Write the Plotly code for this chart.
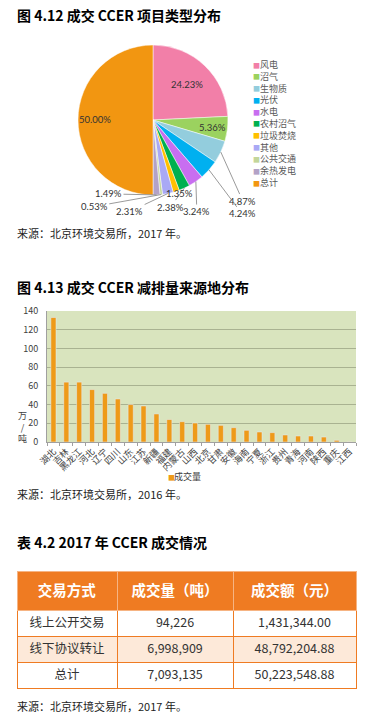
import math
import plotly.graph_objects as go

W, H = 371, 724
FONT = "Noto Sans CJK SC"

# ---------------- data ----------------
pie_labels = ["风电", "沼气", "生物质", "光伏", "水电", "农村沼气", "垃圾焚烧", "其他", "公共交通", "余热发电", "总计"]
pie_values = [24.23, 5.36, 4.87, 4.24, 3.24, 2.38, 1.35, 2.31, 0.53, 1.49, 50.00]

regions = ["湖北", "吉林", "黑龙江", "河北", "辽宁", "四川", "山东", "江苏", "新疆", "福建", "内蒙古", "山西",
           "北京", "甘肃", "安徽", "海南", "宁夏", "浙江", "贵州", "青海", "河南", "陕西", "重庆", "江西"]
volumes_wan_t = [133, 64, 64, 56, 52, 46, 40, 38.5, 30, 24, 21.7, 20.3,
                 18.9, 17.8, 15.3, 12.5, 10.7, 10, 7.5, 6.4, 6.4, 5.3, 1.8, 0.2]
y_ticks = [0, 20, 40, 60, 80, 100, 120, 140]

table_header = ["交易方式", "成交量（吨）", "成交额（元）"]
trade_modes = ["线上公开交易", "线下协议转让", "总计"]
trade_volumes = [94226, 6998909, 7093135]
trade_amounts = [1431344.00, 48792204.88, 50223548.88]

# ---------------- styles ----------------
pie_colors = ["#f27fa8", "#9bd25f", "#93cddd", "#00b0f0", "#c86ef0", "#00b050",
              "#ffc000", "#a9a9f5", "#c3d69b", "#b3a2c7", "#f29611"]
# label placement per slice: ("in", radius fraction) or ("out", dx px, dy px)
label_place = [("in", 0.66), ("in", 0.8), ("out", 22, 49), ("out", 33, 44), ("out", 1, 30),
               ("out", -14, 19), ("out", 3, 2), ("out", -38, 18), ("out", -67, 12),
               ("out", -48, -1), ("in", 0.77)]

def X(px):
    return px / W

def Y(py):
    return 1 - py / H

cx, cy, R = 153, 120, 75

fig = go.Figure()

fig.add_trace(go.Pie(
    labels=pie_labels, values=pie_values, sort=False, direction="clockwise", rotation=0,
    marker=dict(colors=pie_colors, line=dict(color="white", width=0.5)),
    textinfo="none", hoverinfo="label+percent", showlegend=False, automargin=False,
    domain=dict(x=[X(cx - R), X(cx + R)], y=[Y(cy + R), Y(cy - R)]),
))

annotations = []

# pie value labels computed from slice angles
total = sum(pie_values)
cum = 0.0
for lab, v, place in zip(pie_labels, pie_values, label_place):
    mid = (cum + v / 2) / total * 2 * math.pi
    cum += v
    txt = f"{v / total * 100:.2f}%"
    if place[0] == "in":
        rr = R * place[1]
        px, py = cx + rr * math.sin(mid), cy - rr * math.cos(mid)
        annotations.append(dict(x=X(px), y=Y(py), xref="paper", yref="paper", text=txt,
                                xanchor="center", yanchor="middle",
                                showarrow=False, font=dict(size=9.5, color="#333333", family="Lato")))
    else:
        px, py = cx + R * math.sin(mid), cy - R * math.cos(mid)
        annotations.append(dict(x=X(px), y=Y(py), xref="paper", yref="paper", text=txt,
                                showarrow=True, arrowhead=0, arrowwidth=0.8, arrowcolor="#808080",
                                ax=place[1], ay=place[2], standoff=0,
                                xanchor="center", yanchor="middle",
                                font=dict(size=9.5, color="#333333", family="Lato")))

# pie legend (compact, like the original)
for i, (lab, col) in enumerate(zip(pie_labels, pie_colors)):
    yy = 64.5 + i * 11.8
    annotations.append(dict(x=X(251), y=Y(yy), xref="paper", yref="paper", text="■",
                            showarrow=False, xanchor="left", yanchor="middle",
                            font=dict(size=7, color=col)))
    annotations.append(dict(x=X(258), y=Y(yy), xref="paper", yref="paper", text=lab,
                            showarrow=False, xanchor="left", yanchor="middle",
                            font=dict(size=9, color="#595959")))

# bar chart
fig.add_trace(go.Bar(x=regions, y=volumes_wan_t, marker=dict(color="#ee9a19"),
                     name="成交量", showlegend=False, xaxis="x", yaxis="y"))

annotations.append(dict(x=X(166), y=Y(477), xref="paper", yref="paper", text="■",
                        showarrow=False, xanchor="left", yanchor="middle",
                        font=dict(size=7, color="#ee9a19")))
annotations.append(dict(x=X(172), y=Y(477), xref="paper", yref="paper", text="成交量",
                        showarrow=False, xanchor="left", yanchor="middle",
                        font=dict(size=9, color="#404040")))
annotations.append(dict(x=X(22), y=Y(427), xref="paper", yref="paper", text="万<br>/<br>吨",
                        showarrow=False, xanchor="center", yanchor="middle",
                        font=dict(size=9, color="#404040")))

# table
fill_rows = ["white", "#fde9d9", "white"]
fig.add_trace(go.Table(
    domain=dict(x=[X(17), X(356)], y=[Y(690), Y(571)]),
    columnwidth=[100, 116, 123],
    header=dict(values=[f"<b>{h}</b>" for h in table_header],
                fill_color="#ef7b22", line=dict(color="#f6b483", width=1),
                font=dict(color="white", size=14.5, family=FONT), align="center", height=39),
    cells=dict(values=[trade_modes,
                       [f"{v:,}" for v in trade_volumes],
                       [f"{a:,.2f}" for a in trade_amounts]],
               fill_color=[fill_rows, fill_rows, fill_rows],
               line=dict(color="#ef7b22", width=1),
               font=dict(color="#333333", size=12.5, family=FONT), align="center", height=26),
))

# titles and sources
def text_ann(t, px, py, size, bold=False, color="#000000"):
    return dict(x=X(px), y=Y(py), xref="paper", yref="paper", xanchor="left", yanchor="middle",
                text=f"<b>{t}</b>" if bold else t, showarrow=False,
                font=dict(size=size, color=color, family=FONT))

annotations += [
    text_ann("图 4.12 成交 CCER 项目类型分布", 15, 15, 14, True),
    text_ann("来源：北京环境交易所，2017 年。", 15, 233, 11, False, "#222222"),
    text_ann("图 4.13 成交 CCER 减排量来源地分布", 15, 287, 14, True),
    text_ann("来源：北京环境交易所，2016 年。", 15, 494, 11, False, "#222222"),
    text_ann("表 4.2 2017 年 CCER 成交情况", 15, 542, 14, True),
    text_ann("来源：北京环境交易所，2017 年。", 15, 706, 11, False, "#222222"),
]

fig.update_layout(
    width=W, height=H, margin=dict(l=0, r=0, t=0, b=0, pad=0, autoexpand=False),
    paper_bgcolor="white", plot_bgcolor="#d9e4be",
    font=dict(family=FONT, color="#333333"),
    showlegend=False,
    bargap=0.6,
    xaxis=dict(domain=[X(47), X(356)], type="category", tickangle=-45, automargin=False,
               tickfont=dict(size=9, color="#404040", family=FONT),
               ticks="outside", tickson="boundaries", ticklen=3, tickcolor="#a0a0a0",
               showline=True, linecolor="#a0a0a0", showgrid=False, fixedrange=True),
    yaxis=dict(domain=[Y(442), Y(311)], range=[0, 140], tickvals=y_ticks, automargin=False,
               tickfont=dict(size=9, color="#404040"), gridcolor="#a9b291",
               showline=True, linecolor="#a0a0a0", zeroline=False, ticklabelstandoff=6,
               fixedrange=True),
    annotations=annotations,
)

fig.write_html("out.html", config={"displayModeBar": False},
               post_script="document.body.style.margin='0px';document.body.style.overflow='hidden';")
